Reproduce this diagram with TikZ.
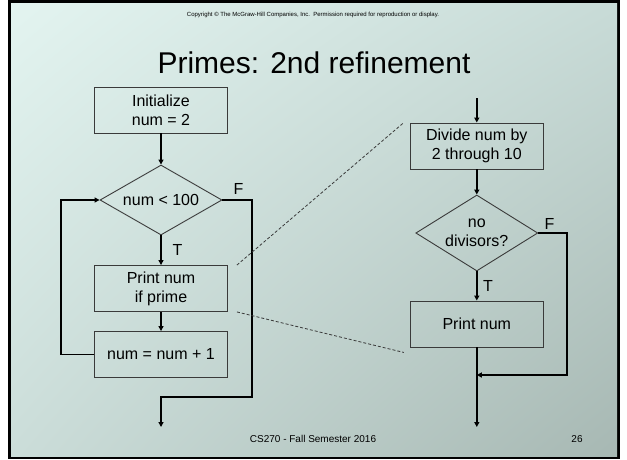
\documentclass[tikz,border=0pt]{standalone}
\usepackage{fontspec}
\setmainfont{Liberation Sans}
\usetikzlibrary{shapes.geometric, arrows.meta, shadings}

\definecolor{bgtl}{HTML}{E3F4F0}
\definecolor{bgtr}{HTML}{C8DBD7}
\definecolor{bgbl}{HTML}{CBDDD9}
\definecolor{bgbr}{HTML}{A7B8B3}
\definecolor{boxline}{HTML}{3A3A3A}

\begin{document}
\begin{tikzpicture}[x=1pt, y=-1pt,
    box/.style={rectangle, draw=boxline, line width=0.9pt, minimum width=133pt, minimum height=46pt, align=center, font=\fontsize{16}{19}\selectfont},
    decision/.style={diamond, draw=boxline, line width=0.9pt, inner sep=0pt, aspect=1.6, minimum width=122pt, align=center, font=\fontsize{16}{19}\selectfont},
    flow/.style={-{Triangle[length=5pt, width=5pt]}, line width=1.8pt},
    lbl/.style={font=\fontsize{16}{19}\selectfont},
    zoomline/.style={draw=boxline, line width=0.8pt, dash pattern=on 3pt off 2pt}]

    % Slide frame and background
    \useasboundingbox (0,0) rectangle (627,459);
    \fill[white] (0,0) rectangle (627,459);
    \fill[black] (8,0) rectangle (620,459);
    \shade[upper left=bgtl, upper right=bgtr, lower left=bgbl, lower right=bgbr] (11,3) rectangle (617,456);

    % Header and footer
    \node (copy) at (313,15) {\fontsize{6}{7}\selectfont Copyright \textcopyright{} The McGraw-Hill Companies, Inc.\ \ Permission required for reproduction or display.};
    \node (title) at (314,63) {\fontsize{30}{34}\selectfont Primes: 2nd refinement};
    \node (foot) at (313,439) {\fontsize{10}{12}\selectfont CS270 - Fall Semester 2016};
    \node (page) at (577,439) {\fontsize{10}{12}\selectfont 26};

    % Node definitions (outer loop)
    \node (init) at (161,110) [box] {Initialize\\num = 2};
    \node (cond) at (161,200) [decision, minimum height=70pt] {num < 100};
    \node (prt) at (161,288.5) [box] {Print num\\if prime};
    \node (incr) at (161,354.5) [box] {num = num + 1};
    \coordinate (fcorner) at (252,397);
    \coordinate (ljoin) at (161,397);
    \coordinate (lend) at (161,427);

    % Node definitions (refined step)
    \coordinate (rin) at (476.8,98);
    \node (div) at (476.8,146) [box] {Divide num by\\2 through 10};
    \node (nodiv) at (476.8,233) [decision, minimum height=76pt] {no\\divisors?};
    \node (prnum) at (476.8,324) [box] {Print num};
    \coordinate (rjoin) at (476.8,375);
    \coordinate (rend) at (476.8,427);

    % Edge definitions
    \draw[flow] (init) -- (cond);
    \draw[flow] (cond) -- (prt) node[lbl] at (177.5,249.5) {T};
    \draw[flow] (prt) -- (incr);
    \draw[flow] (incr.west) -- ++(-33,0) |- (cond.west);
    \draw[flow] (cond.east) -| (fcorner) -- (ljoin) -- (lend);
    \node[lbl] (lf) at (238.5,188.5) {F};

    \draw[flow] (rin) -- (div);
    \draw[flow] (div) -- (nodiv);
    \draw[flow] (nodiv) -- (prnum) node[lbl] at (488,285.5) {T};
    \draw[flow] (nodiv.east) -- ++(29,0) |- (rjoin);
    \draw[flow] (prnum) -- (rend);
    \node[lbl] (rf) at (549.5,223.5) {F};

    % Zoom lines from the box being refined
    \draw[zoomline] ([xshift=9pt]prt.north east) -- ([xshift=-6pt]div.north west);
    \draw[zoomline] ([xshift=9pt]prt.south east) -- ([xshift=-6pt, yshift=-5pt]prnum.south west);
\end{tikzpicture}
\end{document}
